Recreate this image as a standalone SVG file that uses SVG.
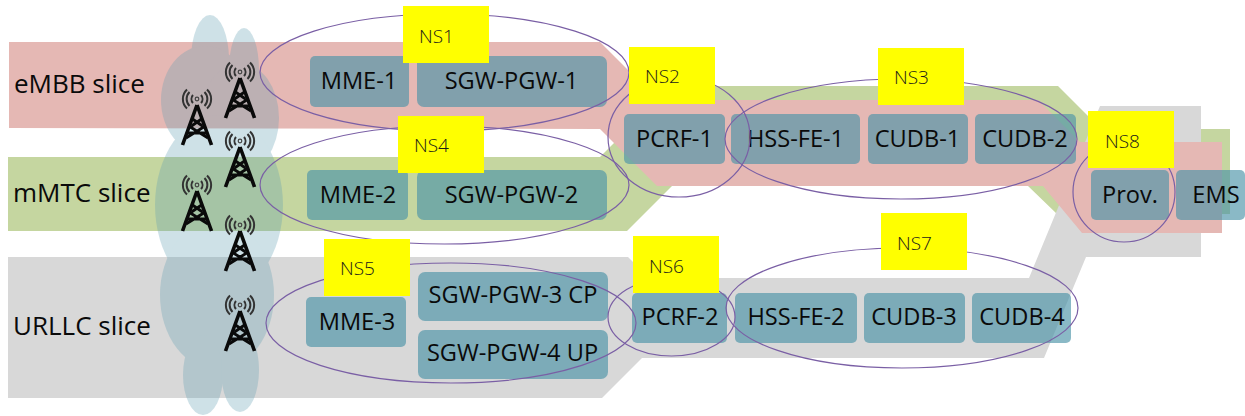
<svg xmlns="http://www.w3.org/2000/svg" width="1245" height="416" viewBox="0 0 1245 416">
<style>
.n{fill:#4b93a7;fill-opacity:.65}
.t{font-family:"Open Sans","Noto Sans",sans-serif;font-size:23.600px;fill:#0a0a0a;text-anchor:middle}
.s{font-family:"Open Sans","Noto Sans",sans-serif;font-size:26px;fill:#0a0a0a}
.e{fill:none;stroke:#7a5fa5;stroke-width:1.2}
.y{fill:#ffff00}
.l{font-family:"Open Sans","Noto Sans",sans-serif;font-weight:300;font-size:19px;fill:#1a1a1a}
</style>
<defs>
<g id="tower" fill="none" stroke="#0a0a0a">
<path d="M0 17L-14.500 57M0 17L14.500 57" stroke-width="3.600"/>
<path d="M-4.500 31L5.500 38M4.500 31L-5.500 38M-7.500 38.500L11 50M7.500 38.500L-11 50M-9 45H9" stroke-width="2.800"/>
<ellipse cx="0" cy="11" rx="1.800" ry="1.800" stroke-width="1.200" stroke="#444"/>
<path d="M-4 7A6 6 0 0 0 -4 15M4 7A6 6 0 0 1 4 15M-7.500 4A10 10 0 0 0 -7.500 18M7.500 4A10 10 0 0 1 7.500 18M-10 1.500A13 13 0 0 0 -10 20.500M10 1.500A13 13 0 0 1 10 20.500" stroke-width="2" stroke="#333"/>
</g>
</defs>
<g id="slices">
<polygon fill="#c5d6a0" points="8,157 600,157 671,86 1058,86 1101,129 1230,129 1230,214 1057,214 1028,186 672,186 627,231 8,231"/>
<polygon fill="#d8d8d8" points="8,257 628,257 649,278 1029,278 1100,106 1201,106 1201,257 1086,257 1044,358 642,358 602,398 8,398"/>
<polygon fill="#e5b8b4" points="9,42 600,42 658,100 1038,100 1080,142 1222,142 1222,233 1082,233 1043,186 657,186 600,129 9,128"/>
</g>
<g id="cloud" fill="#5f9eb2" opacity=".3">
<ellipse cx="210" cy="60" rx="19" ry="45"/>
<ellipse cx="244" cy="70" rx="15" ry="42"/>
<ellipse cx="205" cy="100" rx="44" ry="54"/>
<ellipse cx="240" cy="118" rx="39" ry="55"/>
<ellipse cx="219" cy="205" rx="64" ry="90"/>
<ellipse cx="217" cy="295" rx="57" ry="75"/>
<ellipse cx="203" cy="375" rx="20" ry="40"/>
<ellipse cx="240" cy="370" rx="19" ry="42"/>
</g>
<g id="towers">
<use href="#tower" x="240" y="61"/>
<use href="#tower" x="197" y="88"/>
<use href="#tower" x="240" y="130"/>
<use href="#tower" x="197" y="174"/>
<use href="#tower" x="240" y="214"/>
<use href="#tower" x="240" y="294"/>
</g>
<g id="labels">
<text class="s" x="14" y="93">eMBB slice</text>
<text class="s" x="13" y="202">mMTC slice</text>
<text class="s" x="13" y="335">URLLC slice</text>
</g>
<g id="mme-1"><rect class="n" x="310" y="56" width="99" height="51" rx="5"/><text class="t" x="359" y="89">MME-1</text></g>
<g id="sgw-pgw-1"><rect class="n" x="417" y="56" width="190" height="51" rx="7"/><text class="t" x="511.500" y="89">SGW-PGW-1</text></g>
<g id="mme-2"><rect class="n" x="307" y="170" width="101" height="50" rx="5"/><text class="t" x="358" y="203">MME-2</text></g>
<g id="sgw-pgw-2"><rect class="n" x="417" y="170" width="190" height="50" rx="7"/><text class="t" x="511.500" y="203">SGW-PGW-2</text></g>
<g id="mme-3"><rect class="n" x="306" y="297" width="100" height="50" rx="5"/><text class="t" x="357" y="330">MME-3</text></g>
<g id="sgw-pgw-3"><rect class="n" x="418" y="272" width="190" height="49" rx="7"/><text class="t" x="513" y="303">SGW-PGW-3 CP</text></g>
<g id="sgw-pgw-4"><rect class="n" x="418" y="330" width="190" height="49" rx="7"/><text class="t" x="512.500" y="361">SGW-PGW-4 UP</text></g>
<g id="pcrf-1"><rect class="n" x="624" y="114" width="101" height="50" rx="5"/><text class="t" x="674.500" y="147">PCRF-1</text></g>
<g id="hss-fe-1"><rect class="n" x="731" y="114" width="129" height="50" rx="5"/><text class="t" x="795.500" y="147">HSS-FE-1</text></g>
<g id="cudb-1"><rect class="n" x="868" y="114" width="100" height="50" rx="5"/><text class="t" x="917.500" y="147">CUDB-1</text></g>
<g id="cudb-2"><rect class="n" x="975" y="114" width="101" height="50" rx="5"/><text class="t" x="1025" y="147">CUDB-2</text></g>
<g id="prov"><rect class="n" x="1091" y="170" width="78" height="50" rx="5"/><text class="t" x="1130" y="203">Prov.</text></g>
<g id="ems"><rect class="n" x="1176" y="170" width="69" height="50" rx="5"/><text class="t" x="1216" y="203">EMS</text></g>
<g id="pcrf-2"><rect class="n" x="632" y="293" width="95" height="50" rx="5"/><text class="t" x="680" y="325">PCRF-2</text></g>
<g id="hss-fe-2"><rect class="n" x="735" y="293" width="122" height="50" rx="5"/><text class="t" x="796" y="325">HSS-FE-2</text></g>
<g id="cudb-3"><rect class="n" x="864" y="293" width="101" height="50" rx="5"/><text class="t" x="914" y="325">CUDB-3</text></g>
<g id="cudb-4"><rect class="n" x="972" y="293" width="99" height="50" rx="5"/><text class="t" x="1022" y="325">CUDB-4</text></g>
<g id="ns-ellipses">
<ellipse class="e" cx="444.500" cy="72.500" rx="184.500" ry="58.500"/>
<ellipse class="e" cx="679" cy="137" rx="71" ry="60"/>
<ellipse class="e" cx="901" cy="139" rx="176" ry="60"/>
<ellipse class="e" cx="444.500" cy="185" rx="184.500" ry="59"/>
<ellipse class="e" cx="451" cy="323" rx="185" ry="60"/>
<ellipse class="e" cx="671.500" cy="317" rx="63.500" ry="39"/>
<ellipse class="e" cx="902" cy="308" rx="176" ry="60"/>
<ellipse class="e" cx="1124" cy="192" rx="51" ry="50"/>
</g>
<g id="ns1"><rect class="y" x="403" y="6" width="86" height="57"/><text class="l" x="419" y="43">NS1</text></g>
<g id="ns2"><rect class="y" x="629" y="47" width="86" height="57"/><text class="l" x="645" y="83">NS2</text></g>
<g id="ns3"><rect class="y" x="878" y="48" width="86" height="57"/><text class="l" x="894" y="84">NS3</text></g>
<g id="ns4"><rect class="y" x="398" y="116" width="86" height="57"/><text class="l" x="414" y="152">NS4</text></g>
<g id="ns5"><rect class="y" x="324" y="239" width="86" height="57"/><text class="l" x="340" y="275">NS5</text></g>
<g id="ns6"><rect class="y" x="633" y="236" width="86" height="57"/><text class="l" x="649" y="273">NS6</text></g>
<g id="ns7"><rect class="y" x="881" y="213" width="86" height="57"/><text class="l" x="897" y="250">NS7</text></g>
<g id="ns8"><rect class="y" x="1088" y="111" width="86" height="57"/><text class="l" x="1105" y="148">NS8</text></g>
</svg>
